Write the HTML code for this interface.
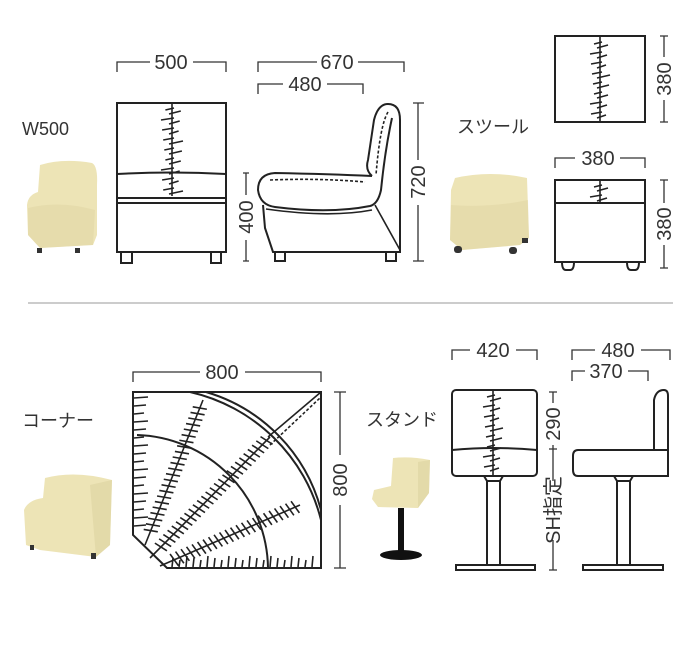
<!DOCTYPE html>
<html><head><meta charset="utf-8">
<style>
html,body{margin:0;padding:0;background:#fff;}
svg{display:block;}
text{font-family:"Liberation Sans","Noto Sans CJK JP",sans-serif;fill:#333;}
.l{fill:none;stroke:#222;stroke-width:2;}
.t{fill:none;stroke:#222;stroke-width:1.6;}
.d{fill:none;stroke:#333;stroke-width:1.3;}
.c{fill:#ede4b6;}
.sh{fill:#d9cf9c;}
</style></head><body>
<svg id="s" width="700" height="653" viewBox="0 0 700 653" xmlns="http://www.w3.org/2000/svg">
<!-- labels -->
<text x="22" y="135" font-size="18">W500</text>
<text x="457" y="133" font-size="18">スツール</text>
<text x="22" y="427" font-size="18">コーナー</text>
<text x="366" y="426" font-size="18">スタンド</text>
<line x1="28" y1="303" x2="673" y2="303" stroke="#999" stroke-width="1"/>

<!-- photos -->
<g class="c">
<path d="M40 165 Q63 158 92 163 Q98 166 97 185 L97 235 L93 245 L40 248 L28 235 L27 205 Q28 195 38 192 Z"/>
<path d="M455 178 Q490 170 527 178 L529 238 L520 245 L462 250 L450 240 L451 190 Z"/>
<path d="M45 478 Q75 470 112 480 L110 545 L96 557 L40 550 L26 545 L24 510 Q28 500 43 498 Z"/>
<path d="M393 458 Q410 456 430 460 L429 493 L418 508 L378 507 L372 499 L374 490 L391 486 Z"/>
</g>
<g class="sh">
<path d="M28 208 Q60 200 95 210 L93 245 L40 248 L28 235 Z" opacity="0.35"/>
<path d="M451 205 Q490 208 528 200 L529 238 L520 245 L462 250 L450 240 Z" opacity="0.35"/>
<path d="M90 485 L112 480 L110 545 L96 557 Z" opacity="0.5"/>
<path d="M418 462 L430 460 L429 493 L418 508 Z" opacity="0.5"/>
</g>
<rect x="37" y="248" width="5" height="5" fill="#333"/><rect x="75" y="248" width="5" height="5" fill="#333"/>
<rect x="454" y="246" width="8" height="7" rx="3" fill="#333"/><rect x="509" y="247" width="8" height="7" rx="3" fill="#333"/><rect x="522" y="238" width="6" height="5" fill="#333"/>
<rect x="30" y="545" width="4" height="5" fill="#333"/><rect x="91" y="553" width="5" height="6" fill="#333"/>
<rect x="398" y="508" width="6" height="44" fill="#111"/>
<ellipse cx="401" cy="555" rx="21" ry="5" fill="#111"/>

<!-- dims -->
<g class="d">
<path d="M117 72 V62 H150 M193 62 H226 V72"/>
<path d="M258 72 V62 H317 M358 62 H404 V72"/>
<path d="M258 94 V84 H283 M327 84 H363 V94"/>
<path d="M243 173 H249 M246 173 V195 M246 240 V261 M243 261 H249"/>
<path d="M413 103 H424 M418 103 V160 M418 205 V261 M413 261 H424"/>
<path d="M660 36 H668 M664 36 V57 M664 100 V122 M660 122 H668"/>
<path d="M555 168 V158 H575 M620 158 H645 V168"/>
<path d="M660 180 H668 M664 180 V203 M664 245 V268 M660 268 H668"/>
<path d="M133 382 V372 H200 M245 372 H321 V382"/>
<path d="M334 392 H346 M340 392 V455 M340 505 V568 M334 568 H346"/>
<path d="M452 360 V350 H470 M516 350 H537 V360"/>
<path d="M572 360 V350 H595 M641 350 H670 V360"/>
<path d="M572 381 V371 H585 M628 371 H648 V381"/>
<path d="M549 392 H557 M553 392 V403 M553 445 V481 M549 449 H557 M553 540 V570 M549 570 H557"/>
</g>
<g font-size="20" text-anchor="middle">
<text x="171" y="69">500</text>
<text x="337" y="69">670</text>
<text x="305" y="91">480</text>
<text transform="translate(253,217) rotate(-90)">400</text>
<text transform="translate(425,182) rotate(-90)">720</text>
<text transform="translate(671,79) rotate(-90)">380</text>
<text x="598" y="165">380</text>
<text transform="translate(671,224) rotate(-90)">380</text>
<text x="222" y="379">800</text>
<text transform="translate(347,480) rotate(-90)">800</text>
<text x="493" y="357">420</text>
<text x="618" y="357">480</text>
<text x="606" y="378">370</text>
<text transform="translate(560,424) rotate(-90)">290</text>
<text transform="translate(560,510) rotate(-90)">SH指定</text>
</g>

<!-- front chair -->
<rect class="l" x="117" y="103" width="109" height="149"/>
<path class="l" d="M117 174 Q171 171 226 174"/>
<path class="l" d="M117 198 H226 M117 203 H226" stroke-width="1.5"/>
<path class="l" d="M121 252 V263 H132 V252 M211 252 V263 H221 V252" stroke-width="1.5"/>
<line class="t" x1="172" y1="104" x2="172" y2="196"/>
<path id="seam1" class="t"/>
<!-- side chair -->
<path class="l" d="M263 205 L265 228 L273 252 H400 L400 120 Q400 104 388 104 Q378 104 374 120 L368 160 Q365 170 372 176"/>
<path class="l" d="M372 176 Q330 174 275 173 Q258 174 258 190 Q260 205 275 207 Q330 214 370 206 Q378 204 381 190 Q385 150 392 118"/>
<path class="t" d="M266 209 Q330 218 372 210 M375 205 L400 250"/>
<path class="t" d="M270 180 Q320 178 365 182 M388 112 Q380 125 376 175" stroke-dasharray="3 2"/>
<path class="l" d="M275 252 V261 H285 V252 M386 252 V261 H396 V252" stroke-width="1.5"/>

<!-- stool top -->
<rect class="l" x="555" y="36" width="90" height="86"/>
<line class="t" x1="600" y1="37" x2="600" y2="121"/>
<path id="seam2" class="t"/>
<!-- stool front -->
<rect class="l" x="555" y="180" width="90" height="82"/>
<line class="l" x1="555" y1="203" x2="645" y2="203"/>
<line class="t" x1="600" y1="181" x2="600" y2="202"/>
<path id="seam3" class="t"/>
<path class="l" d="M562 262 Q562 270 566 270 H570 Q574 270 574 262 M627 262 Q627 270 631 270 H635 Q639 270 639 262" stroke-width="1.5"/>

<!-- corner -->
<path class="l" d="M133 392 H321 V568 H167 L133 535 Z"/>
<path class="l" d="M190 392 A175 175 0 0 1 321 520"/>
<path class="l" d="M206 392 A168 168 0 0 1 321 510" stroke-width="1.5"/>
<path class="l" d="M137 435 A135 135 0 0 1 268 568" stroke-width="1.7"/>
<path id="rad" class="t"/>
<path class="t" d="M270 445 L321 397" stroke-dasharray="3 2"/>
<path class="t" d="M268 437 L321 392"/>
<path id="cticks" class="t"/>

<!-- stand front -->
<rect class="l" x="452" y="390" width="85" height="86" rx="4"/>
<path class="l" d="M452 450 Q494 446 537 450"/>
<line class="t" x1="493" y1="391" x2="493" y2="475"/>
<path id="seam4" class="t"/>
<path class="l" d="M484 476 L487 481 H500 L503 476 M487 481 V565 M500 481 V565" stroke-width="1.6"/>
<path class="l" d="M456 565 H535 V570 H456 Z" stroke-width="1.6"/>
<!-- stand side -->
<path class="l" d="M578 450 H668 V476 H578 Q573 476 573 470 V456 Q573 450 578 450 Z"/>
<path class="l" d="M654 450 L654 400 Q656 390 664 390 Q668 390 668 396 V450"/>
<path class="l" d="M614 476 L617 481 H630 L633 476 M617 481 V565 M630 481 V565" stroke-width="1.6"/>
<path class="l" d="M583 565 H663 V570 H583 Z" stroke-width="1.6"/>
</svg>
<script>
function seam(id,x,y0,y1,step,len){
 var d="",i=0;
 for(var y=y0;y<=y1;y+=step,i++){
  var L=len*(0.6+0.4*((i*7)%5)/4);
  if(i%2){d+="M"+(x-3)+" "+(y+1)+" L"+(x+L)+" "+(y-2)+" ";}
  else{d+="M"+(x+2)+" "+y+" L"+(x-L)+" "+(y+2)+" ";}
 }
 document.getElementById(id).setAttribute("d",d);
}
seam("seam1",172,108,194,5,11);
seam("seam2",600,42,118,5,10);
seam("seam3",600,185,200,5,10);
seam("seam4",493,395,470,5,10);
var d="",t="";
var ends=[[203,400],[270,437],[300,505]];
ends.forEach(function(e,k){
 var sx=[145,150,160][k],sy=[545,558,566][k];
 d+="M"+sx+" "+sy+" L"+e[0]+" "+e[1]+" ";
 var dx=e[0]-sx,dy=e[1]-sy,n=Math.hypot(dx,dy),ux=dx/n,uy=dy/n,px=-uy,py=ux;
 for(var s=14;s<n-6;s+=6){
  var x=sx+ux*s,y=sy+uy*s,L=(s/6%2?7:5);
  t+="M"+(x+px*L+ux*3)+" "+(y+py*L+uy*3)+" L"+(x-px*L)+" "+(y-py*L)+" ";
 }
});
for(var y=398;y<532;y+=8){t+="M134 "+y+" L"+(144+(y%3)*2)+" "+(y-1)+" ";}
for(var x=172;x<318;x+=7){t+="M"+x+" 567 L"+(x+1)+" "+(556+(x%3)*2)+" ";}
document.getElementById("rad").setAttribute("d",d);
document.getElementById("cticks").setAttribute("d",t);
</script>
</body></html>
